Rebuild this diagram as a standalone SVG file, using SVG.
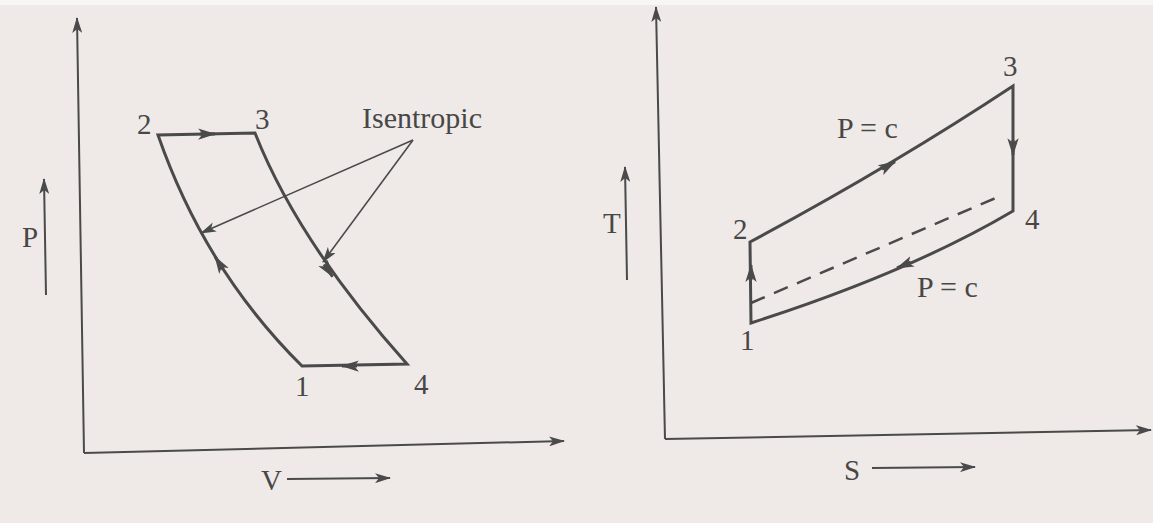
<svg xmlns="http://www.w3.org/2000/svg" width="1153" height="523" viewBox="0 0 1153 523">
  <style>
    .bg { fill: #efeae8; }
    .axis { fill: none; stroke: #4a4a4a; stroke-width: 2; }
    .cyc { fill: none; stroke: #4a4a4a; stroke-width: 3; stroke-linejoin: miter; }
    .lead { fill: none; stroke: #4a4a4a; stroke-width: 1.6; }
    .dash { fill: none; stroke: #4a4a4a; stroke-width: 2.5; stroke-dasharray: 15 10; }
    .lbl { font-family: "Liberation Serif", "Times New Roman", serif; font-size: 29px; fill: #474747; }
    .big { font-size: 30px; }
  </style>
  <defs>
    <marker id="ah" viewBox="0 0 16 10" refX="15" refY="5" markerWidth="16" markerHeight="10" markerUnits="userSpaceOnUse" orient="auto">
      <path d="M0,0 L16,5 L0,10 L4,5 Z" fill="#4a4a4a"/>
    </marker>
    <marker id="ahm" viewBox="0 0 16 10" refX="15" refY="5" markerWidth="18" markerHeight="12" markerUnits="userSpaceOnUse" orient="auto">
      <path d="M0,0 L16,5 L0,10 L4,5 Z" fill="#4a4a4a"/>
    </marker>
    <marker id="ahs" viewBox="0 0 16 10" refX="15" refY="5" markerWidth="16" markerHeight="10" markerUnits="userSpaceOnUse" orient="auto">
      <path d="M0,0 L16,5 L0,10 L4,5 Z" fill="#4a4a4a"/>
    </marker>
  </defs>
  <rect class="bg" x="0" y="0" width="1153" height="523"/>
  <rect x="0" y="0" width="1153" height="5" fill="#f8f6f5"/>

  <!-- P-V diagram -->
  <g id="pv-axes">
    <path class="axis" d="M84,453 L77,18" marker-end="url(#ah)"/>
    <path class="axis" d="M84,453 L564,441" marker-end="url(#ah)"/>
    <path class="axis" d="M46,295 L44,179" marker-end="url(#ah)"/>
    <path class="axis" d="M287,479 L390,478" marker-end="url(#ah)"/>
    <text class="lbl" x="22" y="247">P</text>
    <text class="lbl" x="261" y="490">V</text>
  </g>
  <g id="pv-cycle">
    <path class="cyc" d="M302,366 Q205,270 158,135 L255,133 Q298,242 407,364 Z"/>
  </g>
  <g id="pv-point-1"><text class="lbl" x="295" y="396">1</text></g>
  <g id="pv-point-2"><text class="lbl" x="137" y="134">2</text></g>
  <g id="pv-point-3"><text class="lbl" x="255" y="129">3</text></g>
  <g id="pv-point-4"><text class="lbl" x="414" y="394">4</text></g>
  <g id="pv-isentropic-label"><text class="lbl big" x="362" y="128">Isentropic</text></g>
  <g id="pv-connectors">
    <path class="cyc" d="M200,134 L215,134" marker-end="url(#ahm)"/>
    <path class="cyc" d="M324,264.4 L332.6,276.7" marker-end="url(#ahm)"/>
    <path class="cyc" d="M223,269.4 L215,256.7" marker-end="url(#ahm)"/>
    <path class="cyc" d="M357,366 L342,366" marker-end="url(#ahm)"/>
    <path class="lead" d="M413,140 L201,233" marker-end="url(#ahs)"/>
    <path class="lead" d="M413,140 L323,262" marker-end="url(#ahs)"/>
  </g>

  <!-- T-S diagram -->
  <g id="ts-axes">
    <path class="axis" d="M665,439 L656,7" marker-end="url(#ah)"/>
    <path class="axis" d="M665,439 L1151,430" marker-end="url(#ah)"/>
    <path class="axis" d="M627,280 L625,167" marker-end="url(#ah)"/>
    <path class="axis" d="M872,468 L975,467" marker-end="url(#ah)"/>
    <text class="lbl" x="603" y="233">T</text>
    <text class="lbl" x="844" y="480">S</text>
  </g>
  <g id="ts-cycle">
    <path class="cyc" d="M751,323 L750,242 Q892,166 1013,86 L1013,211 Q910,272 751,323 Z"/>
    <path class="dash" d="M751,303 L998,197"/>
  </g>
  <g id="ts-point-1"><text class="lbl" x="740" y="350">1</text></g>
  <g id="ts-point-2"><text class="lbl" x="733" y="239">2</text></g>
  <g id="ts-point-3"><text class="lbl" x="1003" y="76">3</text></g>
  <g id="ts-point-4"><text class="lbl" x="1025" y="229">4</text></g>
  <g id="ts-pc-upper"><text class="lbl big" x="837" y="138">P = c</text></g>
  <g id="ts-pc-lower"><text class="lbl big" x="917" y="297">P = c</text></g>
  <g id="ts-connectors">
    <path class="cyc" d="M882,169.3 L895,161.7" marker-end="url(#ahm)"/>
    <path class="cyc" d="M1013,140 L1013,155" marker-end="url(#ahm)"/>
    <path class="cyc" d="M910.8,262.1 L897,268" marker-end="url(#ahm)"/>
    <path class="cyc" d="M751,280 L751,265" marker-end="url(#ahm)"/>
  </g>
</svg>
